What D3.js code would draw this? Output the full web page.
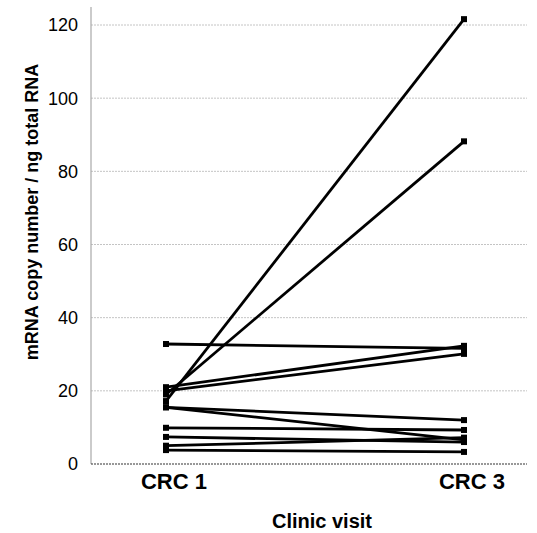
<!DOCTYPE html>
<html>
<head>
<meta charset="utf-8">
<script src="https://cdn.jsdelivr.net/npm/d3@7"></script>
<style>
  body { margin: 0; background: #fff; }
  svg { display: block; font-family: "Liberation Sans", Arial, sans-serif; }
</style>
</head>
<body>
<div id="chart"></div>
<script>
// visits on the x axis
const visits = ["CRC 1", "CRC 3"];
// one value per patient and visit
const crc1 = [32.8, 21.0, 20.0, 19.0, 17.2, 15.5, 15.5, 9.9, 7.4, 5.0, 3.8];
const crc3 = [31.6, 32.3, 30.1, 88.2, 121.6, 12.0, 6.6, 9.3, 6.0, 7.2, 3.3];
const yTicks = [0, 20, 40, 60, 80, 100, 120];

const width = 537, height = 533;

const svg = d3.select("#chart")
  .append("svg")
  .attr("width", width)
  .attr("height", height);

const x = d3.scalePoint().domain(visits).range([166, 464]);
const y = d3.scaleLinear().domain([0, 120]).range([464, 25]);

// grid lines
svg.append("g")
  .selectAll("line")
  .data(yTicks.filter(d => d > 0))
  .enter()
  .append("line")
  .attr("x1", 91).attr("x2", 527)
  .attr("y1", d => y(d)).attr("y2", d => y(d))
  .attr("stroke", "#c4c4c4")
  .attr("stroke-width", 1)
  .attr("stroke-dasharray", "2,1");

// y axis line
svg.append("line")
  .attr("x1", 91).attr("x2", 91)
  .attr("y1", 7).attr("y2", y(0))
  .attr("stroke", "#a8a8a8")
  .attr("stroke-width", 1.2);

// x axis (dotted)
svg.append("line")
  .attr("x1", 91).attr("x2", 527)
  .attr("y1", y(0)).attr("y2", y(0))
  .attr("stroke", "#333")
  .attr("stroke-width", 1.2)
  .attr("stroke-dasharray", "2,1");

// y tick labels
svg.append("g")
  .selectAll("text")
  .data(yTicks)
  .enter()
  .append("text")
  .attr("x", 78)
  .attr("y", d => y(d))
  .attr("dy", "0.36em")
  .attr("text-anchor", "end")
  .style("font-size", "18px")
  .text(d => d);

// x tick labels
svg.append("g")
  .selectAll("text")
  .data(visits)
  .enter()
  .append("text")
  .attr("x", d => x(d) + 8)
  .attr("y", 489)
  .attr("text-anchor", "middle")
  .style("font-size", "22px")
  .style("font-weight", "bold")
  .text(d => d);

// axis titles
svg.append("text")
  .attr("x", 322)
  .attr("y", 528)
  .attr("text-anchor", "middle")
  .style("font-size", "20px")
  .style("font-weight", "bold")
  .text("Clinic visit");

svg.append("text")
  .attr("transform", "translate(38, 212) rotate(-90)")
  .attr("text-anchor", "middle")
  .style("font-size", "18px")
  .style("font-weight", "bold")
  .text("mRNA copy number / ng total RNA");

// patient lines
const pairs = crc1.map((v, i) => [v, crc3[i]]);
const line = d3.line()
  .x((d, i) => x(visits[i]))
  .y(d => y(d));

svg.append("g")
  .selectAll("path")
  .data(pairs)
  .enter()
  .append("path")
  .attr("d", line)
  .attr("fill", "none")
  .attr("stroke", "#000")
  .attr("stroke-width", 2.8);

// markers
const pts = [];
pairs.forEach(p => p.forEach((v, i) => pts.push({ visit: visits[i], value: v })));
svg.append("g")
  .selectAll("rect")
  .data(pts)
  .enter()
  .append("rect")
  .attr("x", d => x(d.visit) - 3)
  .attr("y", d => y(d.value) - 3)
  .attr("width", 6)
  .attr("height", 6)
  .attr("fill", "#000");
</script>
</body>
</html>
